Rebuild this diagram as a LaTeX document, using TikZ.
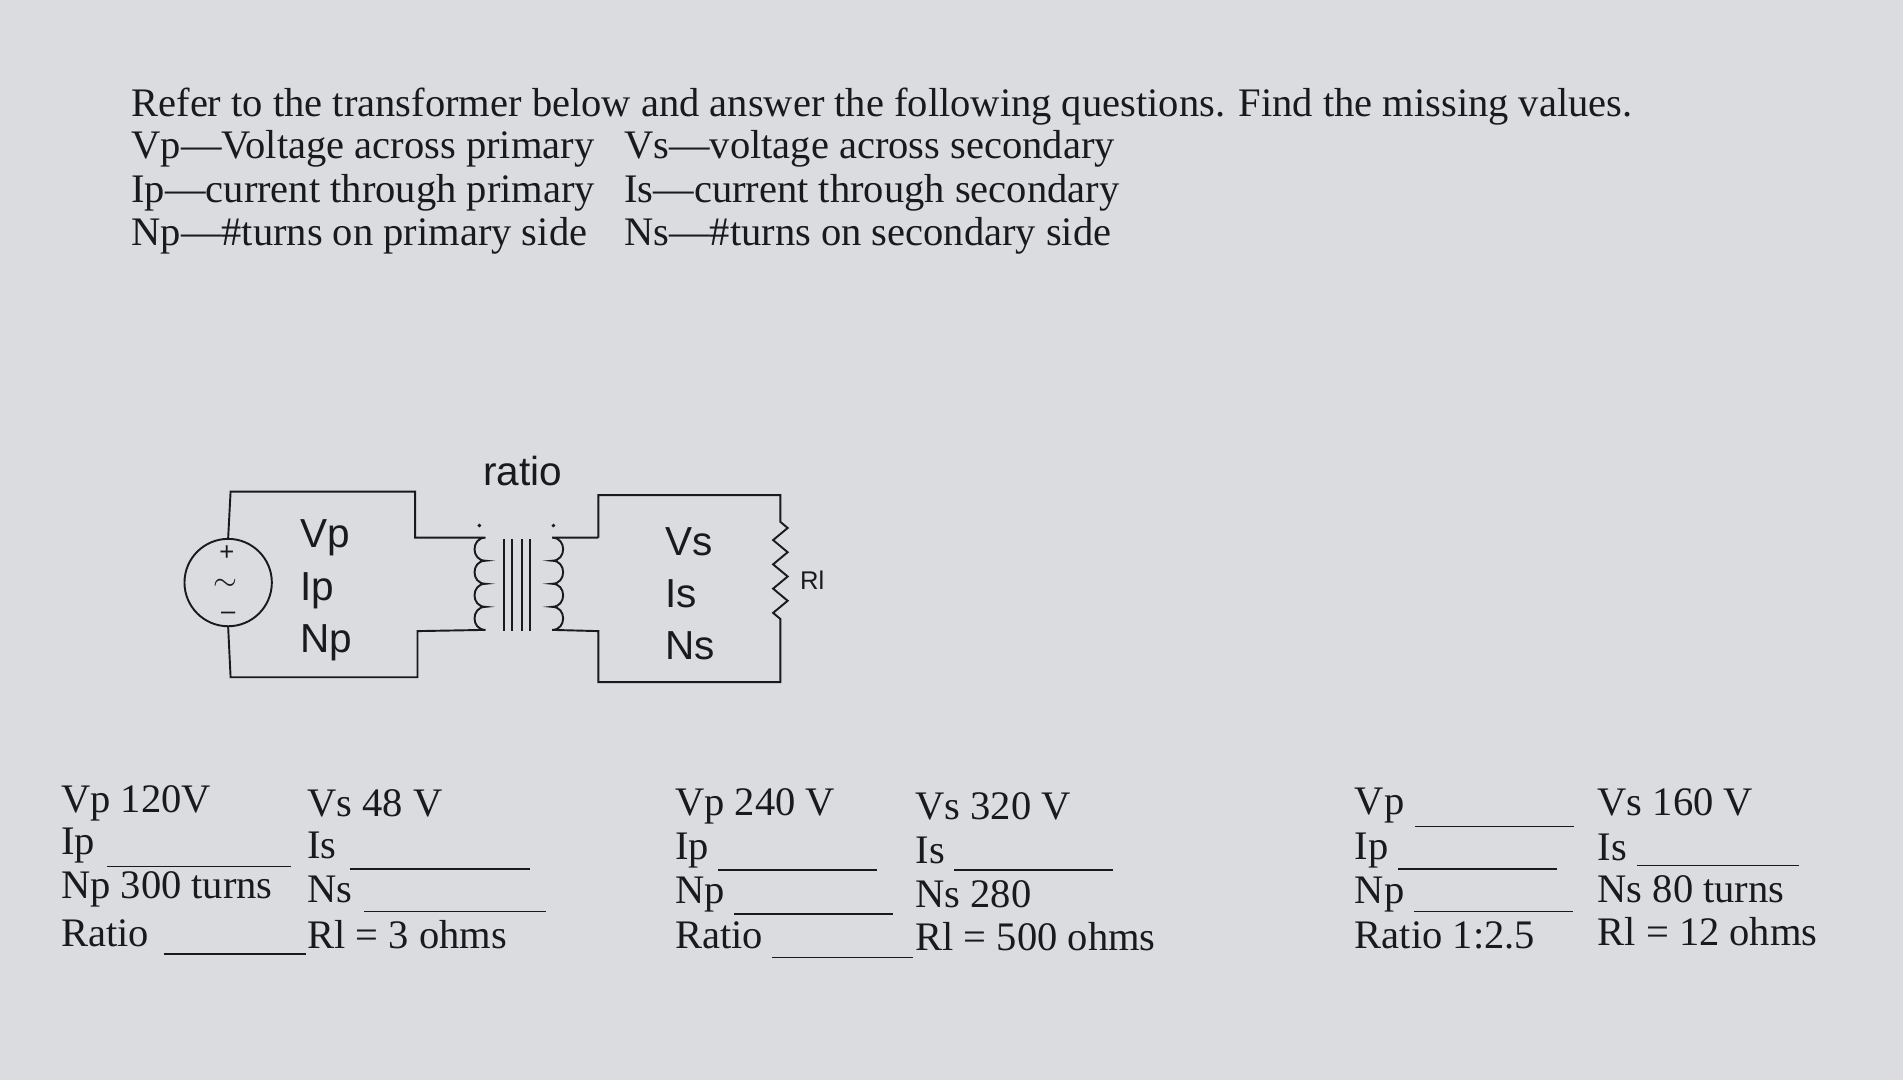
\documentclass[tikz,border=0pt]{standalone}
\usepackage{fontspec}
\setmainfont{Liberation Serif}
\newfontfamily\sansf{Liberation Sans}
\definecolor{bg}{RGB}{218,220,224}
\definecolor{ink}{RGB}{25,25,30}
\begin{document}
\begin{tikzpicture}[x=0.02cm,y=-0.02cm,
  t/.style={anchor=west,inner sep=0,text=ink,font=\fontsize{19}{21}\selectfont},
  s/.style={anchor=west,inner sep=0,text=ink,font=\sansf\fontsize{19}{21}\selectfont},
  w/.style={draw=ink,line width=0.9pt},
  blank/.style={draw=ink,line width=0.7pt}]
\fill[bg] (0,0) rectangle (1568,890);
\useasboundingbox (0,0) rectangle (1568,890);
% header
\node[t] (h1) at (108,88) {Refer to the transformer below and answer the following questions. Find the missing values.};
\node[t] (h2) at (108,123) {Vp---Voltage across primary};
\node[t] (h3) at (108,159) {Ip---current through primary};
\node[t] (h4) at (108,194) {Np---\#turns on primary side};
\node[t] (h5) at (514,123) {Vs---voltage across secondary};
\node[t] (h6) at (514,159) {Is---current through secondary};
\node[t] (h7) at (514,194) {Ns---\#turns on secondary side};
% circuit
\node[w,circle,minimum size=1.44cm,inner sep=0] (src) at (188,480) {};
\node[inner sep=0,text=ink,font=\sansf\fontsize{12}{12}\selectfont] (plus) at (187,456) {+};
\node[inner sep=0,text=ink,font=\fontsize{14}{14}\selectfont] (tilde) at (186,482) {$\sim$};
\node[inner sep=0,text=ink,font=\sansf\fontsize{12}{12}\selectfont] (minus) at (188,507) {\textendash};
\draw[w] (src.north) -- (190,405) -- (342,405) -- (342,443) -- (400,443)
  .. controls (388,443) and (388,462) .. (400,462)
  .. controls (388,462) and (388,481) .. (400,481)
  .. controls (388,481) and (388,500) .. (400,500)
  .. controls (388,500) and (388,519) .. (400,519) -- (344,520) -- (344,558) -- (190,558) -- (src.south);
\foreach \x in {415,422,430,437} \draw[w] (\x,444) -- (\x,520);
\draw[w] (493,443) -- (455,443)
  .. controls (467,443) and (467,462) .. (455,462)
  .. controls (467,462) and (467,481) .. (455,481)
  .. controls (467,481) and (467,500) .. (455,500)
  .. controls (467,500) and (467,519) .. (455,519) -- (493,520) -- (493,562) -- (643,562) -- (643,510)
  -- (637,505) -- (649,495) -- (637,485) -- (649,475) -- (637,465) -- (649,455) -- (637,445) -- (649,435) -- (643,430)
  -- (643,408) -- (493,408) -- (493,443);
\fill[ink] (395,433) circle (1.6);
\fill[ink] (456,433) circle (1.6);
\node[s] (ratio) at (398,388) {ratio};
\node[s] (cvp) at (247,443) {Vp};
\node[s] (cip) at (247,487) {Ip};
\node[s] (cnp) at (247,530) {Np};
\node[s] (cvs) at (548,446) {Vs};
\node[s] (cis) at (548,489) {Is};
\node[s] (cns) at (548,532) {Ns};
\node[s,font=\sansf\fontsize{12}{12}\selectfont] (rl) at (659,478) {Rl};
% column 1
\node[t] (a1) at (50,662) {Vp 120V};
\node[t] (a2) at (50,697) {Ip};
\node[t] (a3) at (50,733) {Np 300 turns};
\node[t] (a4) at (50,769) {Ratio};
\draw[blank] (88,714) -- (240,714);
\draw[blank] (135,786) -- (252,786);
\node[t] (b1) at (253,662) {Vs 48 V};
\node[t] (b2) at (253,697) {Is};
\node[t] (b3) at (253,733) {Ns};
\node[t] (b4) at (253,770) {Rl = 3 ohms};
\draw[blank] (288,716) -- (437,716);
\draw[blank] (300,751) -- (450,751);
% column 3
\node[t] (c1) at (556,664) {Vp 240 V};
\node[t] (c2) at (556,701) {Ip};
\node[t] (c3) at (556,737) {Np};
\node[t] (c4) at (556,771) {Ratio};
\draw[blank] (592,717) -- (723,717);
\draw[blank] (605,753) -- (736,753);
\draw[blank] (636,789) -- (752,789);
\node[t] (d1) at (754,664) {Vs 320 V};
\node[t] (d2) at (754,701) {Is};
\node[t] (d3) at (754,737) {Ns 280};
\node[t] (d4) at (754,772) {Rl = 500 ohms};
\draw[blank] (786,717) -- (917,717);
% column 5
\node[t] (e1) at (1116,664) {Vp};
\node[t] (e2) at (1116,701) {Ip};
\node[t] (e3) at (1116,737) {Np};
\node[t] (e4) at (1116,771) {Ratio 1:2.5};
\draw[blank] (1166,681) -- (1297,681);
\draw[blank] (1152,716) -- (1283,716);
\draw[blank] (1165,751) -- (1296,751);
\node[t] (f1) at (1316,661) {Vs 160 V};
\node[t] (f2) at (1316,698) {Is};
\node[t] (f3) at (1316,733) {Ns 80 turns};
\node[t] (f4) at (1316,768) {Rl = 12 ohms};
\draw[blank] (1349,713) -- (1482,713);
\end{tikzpicture}
\end{document}
